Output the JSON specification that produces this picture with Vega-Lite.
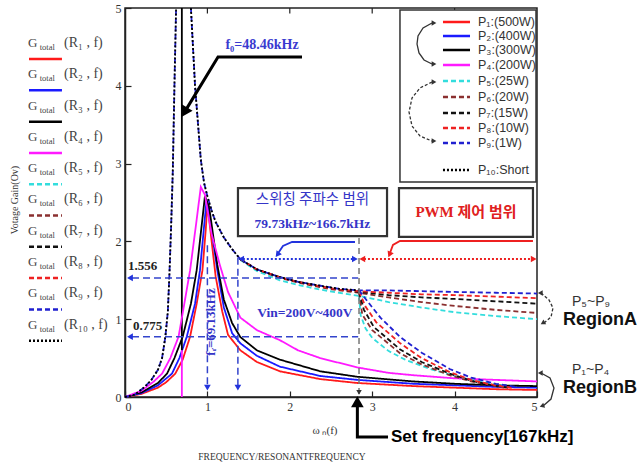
{
"$schema": "https://vega.github.io/schema/vega-lite/v6.json",
"width": 412, "height": 389,
"autosize": {"type": "none"},
"padding": {"left": 125, "top": 8, "right": 101, "bottom": 69},
"background": "white",
"data": {"values": [{}]},
"datasets": {
"curves": [
{"s":"P1","g":"a","x":0,"y":0},{"s":"P1","g":"a","x":0.2,"y":0.04},{"s":"P1","g":"a","x":0.4,"y":0.12},{"s":"P1","g":"a","x":0.5,"y":0.19},{"s":"P1","g":"a","x":0.61,"y":0.3},{"s":"P1","g":"a","x":0.7,"y":0.48},{"s":"P1","g":"a","x":0.79,"y":0.775},{"s":"P1","g":"a","x":0.87,"y":1.2},{"s":"P1","g":"a","x":0.94,"y":1.63},{"s":"P1","g":"a","x":0.98,"y":2.15},{"s":"P1","g":"a","x":1.0,"y":2.48},{"s":"P1","g":"a","x":1.03,"y":2.2},{"s":"P1","g":"a","x":1.1,"y":1.55},{"s":"P1","g":"a","x":1.18,"y":1.1},{"s":"P1","g":"a","x":1.25,"y":0.8},{"s":"P1","g":"a","x":1.4,"y":0.6},{"s":"P1","g":"a","x":1.6,"y":0.45},{"s":"P1","g":"a","x":1.88,"y":0.33},{"s":"P1","g":"a","x":2.37,"y":0.23},{"s":"P1","g":"a","x":2.82,"y":0.18},{"s":"P1","g":"a","x":3.5,"y":0.14},{"s":"P1","g":"a","x":4.0,"y":0.12},{"s":"P1","g":"a","x":4.5,"y":0.1},{"s":"P1","g":"a","x":5.0,"y":0.09},
{"s":"P2","g":"a","x":0,"y":0},{"s":"P2","g":"a","x":0.2,"y":0.05},{"s":"P2","g":"a","x":0.4,"y":0.15},{"s":"P2","g":"a","x":0.57,"y":0.3},{"s":"P2","g":"a","x":0.66,"y":0.5},{"s":"P2","g":"a","x":0.75,"y":0.775},{"s":"P2","g":"a","x":0.85,"y":1.2},{"s":"P2","g":"a","x":0.91,"y":1.63},{"s":"P2","g":"a","x":0.96,"y":2.2},{"s":"P2","g":"a","x":0.99,"y":2.53},{"s":"P2","g":"a","x":1.03,"y":2.3},{"s":"P2","g":"a","x":1.12,"y":1.63},{"s":"P2","g":"a","x":1.2,"y":1.15},{"s":"P2","g":"a","x":1.3,"y":0.82},{"s":"P2","g":"a","x":1.4,"y":0.69},{"s":"P2","g":"a","x":1.6,"y":0.53},{"s":"P2","g":"a","x":1.88,"y":0.39},{"s":"P2","g":"a","x":2.37,"y":0.27},{"s":"P2","g":"a","x":2.82,"y":0.22},{"s":"P2","g":"a","x":3.5,"y":0.17},{"s":"P2","g":"a","x":4.0,"y":0.15},{"s":"P2","g":"a","x":4.5,"y":0.13},{"s":"P2","g":"a","x":5.0,"y":0.12},
{"s":"P3","g":"a","x":0,"y":0},{"s":"P3","g":"a","x":0.2,"y":0.06},{"s":"P3","g":"a","x":0.4,"y":0.18},{"s":"P3","g":"a","x":0.51,"y":0.3},{"s":"P3","g":"a","x":0.6,"y":0.5},{"s":"P3","g":"a","x":0.7,"y":0.775},{"s":"P3","g":"a","x":0.8,"y":1.2},{"s":"P3","g":"a","x":0.87,"y":1.63},{"s":"P3","g":"a","x":0.93,"y":2.2},{"s":"P3","g":"a","x":0.97,"y":2.58},{"s":"P3","g":"a","x":1.02,"y":2.45},{"s":"P3","g":"a","x":1.12,"y":1.7},{"s":"P3","g":"a","x":1.2,"y":1.25},{"s":"P3","g":"a","x":1.3,"y":0.95},{"s":"P3","g":"a","x":1.4,"y":0.77},{"s":"P3","g":"a","x":1.6,"y":0.6},{"s":"P3","g":"a","x":1.88,"y":0.48},{"s":"P3","g":"a","x":2.37,"y":0.33},{"s":"P3","g":"a","x":2.82,"y":0.26},{"s":"P3","g":"a","x":3.5,"y":0.2},{"s":"P3","g":"a","x":4.0,"y":0.17},{"s":"P3","g":"a","x":4.5,"y":0.15},{"s":"P3","g":"a","x":5.0,"y":0.14},
{"s":"P3","g":"v","x":0.69,"y":0.6},{"s":"P3","g":"v","x":0.69,"y":5.0},
{"s":"P4","g":"a","x":0,"y":0},{"s":"P4","g":"a","x":0.2,"y":0.08},{"s":"P4","g":"a","x":0.35,"y":0.2},{"s":"P4","g":"a","x":0.45,"y":0.3},{"s":"P4","g":"a","x":0.55,"y":0.5},{"s":"P4","g":"a","x":0.65,"y":0.775},{"s":"P4","g":"a","x":0.72,"y":1.2},{"s":"P4","g":"a","x":0.79,"y":1.63},{"s":"P4","g":"a","x":0.86,"y":2.2},{"s":"P4","g":"a","x":0.92,"y":2.7},{"s":"P4","g":"a","x":0.97,"y":2.6},{"s":"P4","g":"a","x":1.05,"y":2.1},{"s":"P4","g":"a","x":1.15,"y":1.7},{"s":"P4","g":"a","x":1.25,"y":1.35},{"s":"P4","g":"a","x":1.4,"y":1.02},{"s":"P4","g":"a","x":1.6,"y":0.86},{"s":"P4","g":"a","x":1.88,"y":0.73},{"s":"P4","g":"a","x":2.1,"y":0.6},{"s":"P4","g":"a","x":2.37,"y":0.5},{"s":"P4","g":"a","x":2.82,"y":0.38},{"s":"P4","g":"a","x":3.2,"y":0.31},{"s":"P4","g":"a","x":3.5,"y":0.28},{"s":"P4","g":"a","x":4.0,"y":0.24},{"s":"P4","g":"a","x":4.5,"y":0.22},{"s":"P4","g":"a","x":5.0,"y":0.2},
{"s":"P4","g":"v","x":0.69,"y":0.0},{"s":"P4","g":"v","x":0.69,"y":0.6},
{"s":"P5","g":"b","x":1.4,"y":1.76},{"s":"P5","g":"b","x":1.6,"y":1.62},{"s":"P5","g":"b","x":1.88,"y":1.5},{"s":"P5","g":"b","x":2.1,"y":1.44},{"s":"P5","g":"b","x":2.37,"y":1.38},{"s":"P5","g":"b","x":2.6,"y":1.34},{"s":"P5","g":"b","x":2.84,"y":1.3},{"s":"P5","g":"b","x":3.2,"y":1.22},{"s":"P5","g":"b","x":3.6,"y":1.15},{"s":"P5","g":"b","x":4.0,"y":1.09},{"s":"P5","g":"b","x":4.5,"y":1.04},{"s":"P5","g":"b","x":5.0,"y":1.0},
{"s":"P5","g":"c","x":2.84,"y":1.3},{"s":"P5","g":"c","x":2.86,"y":1.05},{"s":"P5","g":"c","x":2.92,"y":0.88},{"s":"P5","g":"c","x":3.0,"y":0.76},{"s":"P5","g":"c","x":3.2,"y":0.59},{"s":"P5","g":"c","x":3.4,"y":0.48},{"s":"P5","g":"c","x":3.7,"y":0.36},{"s":"P5","g":"c","x":4.0,"y":0.27},{"s":"P5","g":"c","x":4.3,"y":0.2},{"s":"P5","g":"c","x":4.6,"y":0.15},
{"s":"P6","g":"b","x":1.4,"y":1.77},{"s":"P6","g":"b","x":1.6,"y":1.64},{"s":"P6","g":"b","x":1.88,"y":1.53},{"s":"P6","g":"b","x":2.1,"y":1.47},{"s":"P6","g":"b","x":2.37,"y":1.41},{"s":"P6","g":"b","x":2.6,"y":1.37},{"s":"P6","g":"b","x":2.84,"y":1.34},{"s":"P6","g":"b","x":3.2,"y":1.28},{"s":"P6","g":"b","x":3.6,"y":1.22},{"s":"P6","g":"b","x":4.0,"y":1.17},{"s":"P6","g":"b","x":4.5,"y":1.12},{"s":"P6","g":"b","x":5.0,"y":1.08},
{"s":"P6","g":"c","x":2.84,"y":1.34},{"s":"P6","g":"c","x":2.88,"y":1.06},{"s":"P6","g":"c","x":3.0,"y":0.86},{"s":"P6","g":"c","x":3.34,"y":0.56},{"s":"P6","g":"c","x":3.6,"y":0.42},{"s":"P6","g":"c","x":3.94,"y":0.28},{"s":"P6","g":"c","x":4.2,"y":0.2},{"s":"P6","g":"c","x":4.5,"y":0.14},{"s":"P6","g":"c","x":4.6,"y":0.12},
{"s":"P7","g":"b","x":1.4,"y":1.77},{"s":"P7","g":"b","x":1.6,"y":1.64},{"s":"P7","g":"b","x":1.88,"y":1.54},{"s":"P7","g":"b","x":2.1,"y":1.48},{"s":"P7","g":"b","x":2.37,"y":1.42},{"s":"P7","g":"b","x":2.6,"y":1.38},{"s":"P7","g":"b","x":2.84,"y":1.35},{"s":"P7","g":"b","x":3.2,"y":1.31},{"s":"P7","g":"b","x":3.6,"y":1.28},{"s":"P7","g":"b","x":4.0,"y":1.26},{"s":"P7","g":"b","x":4.5,"y":1.23},{"s":"P7","g":"b","x":5.0,"y":1.2},
{"s":"P7","g":"c","x":2.84,"y":1.35},{"s":"P7","g":"c","x":2.9,"y":1.12},{"s":"P7","g":"c","x":3.02,"y":0.9},{"s":"P7","g":"c","x":3.34,"y":0.61},{"s":"P7","g":"c","x":3.6,"y":0.45},{"s":"P7","g":"c","x":3.94,"y":0.3},{"s":"P7","g":"c","x":4.2,"y":0.21},{"s":"P7","g":"c","x":4.5,"y":0.14},{"s":"P7","g":"c","x":4.65,"y":0.12},
{"s":"P8","g":"b","x":1.4,"y":1.77},{"s":"P8","g":"b","x":1.6,"y":1.64},{"s":"P8","g":"b","x":1.88,"y":1.54},{"s":"P8","g":"b","x":2.1,"y":1.48},{"s":"P8","g":"b","x":2.37,"y":1.42},{"s":"P8","g":"b","x":2.6,"y":1.38},{"s":"P8","g":"b","x":2.84,"y":1.36},{"s":"P8","g":"b","x":3.2,"y":1.34},{"s":"P8","g":"b","x":3.6,"y":1.32},{"s":"P8","g":"b","x":4.0,"y":1.31},{"s":"P8","g":"b","x":4.5,"y":1.29},{"s":"P8","g":"b","x":5.0,"y":1.27},
{"s":"P8","g":"c","x":2.84,"y":1.36},{"s":"P8","g":"c","x":2.92,"y":1.16},{"s":"P8","g":"c","x":3.05,"y":0.96},{"s":"P8","g":"c","x":3.34,"y":0.69},{"s":"P8","g":"c","x":3.6,"y":0.5},{"s":"P8","g":"c","x":3.94,"y":0.32},{"s":"P8","g":"c","x":4.2,"y":0.22},{"s":"P8","g":"c","x":4.5,"y":0.15},{"s":"P8","g":"c","x":4.7,"y":0.12},
{"s":"P9","g":"a","x":0,"y":0},{"s":"P9","g":"a","x":0.12,"y":0.03},{"s":"P9","g":"a","x":0.24,"y":0.13},{"s":"P9","g":"a","x":0.32,"y":0.22},{"s":"P9","g":"a","x":0.4,"y":0.35},{"s":"P9","g":"a","x":0.45,"y":0.5},{"s":"P9","g":"a","x":0.49,"y":0.775},{"s":"P9","g":"a","x":0.52,"y":1.1},{"s":"P9","g":"a","x":0.54,"y":1.6},{"s":"P9","g":"a","x":0.56,"y":2.2},{"s":"P9","g":"a","x":0.58,"y":2.9},{"s":"P9","g":"a","x":0.6,"y":4.0},{"s":"P9","g":"a","x":0.62,"y":5.0},
{"s":"P9","g":"b","x":0.8,"y":5.0},{"s":"P9","g":"b","x":0.85,"y":4.0},{"s":"P9","g":"b","x":0.92,"y":3.05},{"s":"P9","g":"b","x":0.96,"y":2.75},{"s":"P9","g":"b","x":1.0,"y":2.58},{"s":"P9","g":"b","x":1.05,"y":2.4},{"s":"P9","g":"b","x":1.1,"y":2.25},{"s":"P9","g":"b","x":1.2,"y":2.05},{"s":"P9","g":"b","x":1.3,"y":1.9},{"s":"P9","g":"b","x":1.4,"y":1.77},{"s":"P9","g":"b","x":1.6,"y":1.64},{"s":"P9","g":"b","x":1.88,"y":1.54},{"s":"P9","g":"b","x":2.1,"y":1.48},{"s":"P9","g":"b","x":2.37,"y":1.43},{"s":"P9","g":"b","x":2.6,"y":1.39},{"s":"P9","g":"b","x":2.84,"y":1.37},{"s":"P9","g":"b","x":3.2,"y":1.37},{"s":"P9","g":"b","x":3.6,"y":1.36},{"s":"P9","g":"b","x":4.0,"y":1.35},{"s":"P9","g":"b","x":4.5,"y":1.34},{"s":"P9","g":"b","x":5.0,"y":1.33},
{"s":"P9","g":"c","x":2.84,"y":1.37},{"s":"P9","g":"c","x":2.95,"y":1.22},{"s":"P9","g":"c","x":3.1,"y":1.02},{"s":"P9","g":"c","x":3.34,"y":0.77},{"s":"P9","g":"c","x":3.6,"y":0.57},{"s":"P9","g":"c","x":3.94,"y":0.36},{"s":"P9","g":"c","x":4.2,"y":0.25},{"s":"P9","g":"c","x":4.5,"y":0.17},{"s":"P9","g":"c","x":4.75,"y":0.13},
{"s":"P10","g":"a","x":0,"y":0},{"s":"P10","g":"a","x":0.12,"y":0.03},{"s":"P10","g":"a","x":0.24,"y":0.13},{"s":"P10","g":"a","x":0.32,"y":0.22},{"s":"P10","g":"a","x":0.4,"y":0.35},{"s":"P10","g":"a","x":0.45,"y":0.5},{"s":"P10","g":"a","x":0.49,"y":0.775},{"s":"P10","g":"a","x":0.52,"y":1.1},{"s":"P10","g":"a","x":0.54,"y":1.6},{"s":"P10","g":"a","x":0.56,"y":2.2},{"s":"P10","g":"a","x":0.58,"y":2.9},{"s":"P10","g":"a","x":0.6,"y":4.0},{"s":"P10","g":"a","x":0.62,"y":5.0},
{"s":"P10","g":"b","x":0.8,"y":5.0},{"s":"P10","g":"b","x":0.85,"y":4.0},{"s":"P10","g":"b","x":0.92,"y":3.05},{"s":"P10","g":"b","x":0.96,"y":2.75},{"s":"P10","g":"b","x":1.0,"y":2.58},{"s":"P10","g":"b","x":1.05,"y":2.4},{"s":"P10","g":"b","x":1.1,"y":2.25},{"s":"P10","g":"b","x":1.2,"y":2.05},{"s":"P10","g":"b","x":1.3,"y":1.9},{"s":"P10","g":"b","x":1.4,"y":1.77},{"s":"P10","g":"b","x":1.6,"y":1.64},{"s":"P10","g":"b","x":1.88,"y":1.54},{"s":"P10","g":"b","x":2.1,"y":1.48},{"s":"P10","g":"b","x":2.37,"y":1.43},{"s":"P10","g":"b","x":2.6,"y":1.39},{"s":"P10","g":"b","x":2.84,"y":1.37}
],
"legL": [
{"s":"P1","lab":"(R₁ , f)","ty":4.55,"ly":4.344},
{"s":"P2","lab":"(R₂ , f)","ty":4.148,"ly":3.942},
{"s":"P3","lab":"(R₃ , f)","ty":3.745,"ly":3.539},
{"s":"P4","lab":"(R₄ , f)","ty":3.343,"ly":3.137},
{"s":"P5","lab":"(R₅ , f)","ty":2.941,"ly":2.735},
{"s":"P6","lab":"(R₆ , f)","ty":2.539,"ly":2.333},
{"s":"P7","lab":"(R₇ , f)","ty":2.136,"ly":1.93},
{"s":"P8","lab":"(R₈ , f)","ty":1.734,"ly":1.528},
{"s":"P9","lab":"(R₉ , f)","ty":1.332,"ly":1.126},
{"s":"P10","lab":"(R₁₀ , f)","ty":0.929,"ly":0.723}
],
"legR": [
{"s":"P1","lab":"P₁:(500W)","ly":4.82},
{"s":"P2","lab":"P₂:(400W)","ly":4.64},
{"s":"P3","lab":"P₃:(300W)","ly":4.46},
{"s":"P4","lab":"P₄:(200W)","ly":4.267},
{"s":"P5","lab":"P₅:(25W)","ly":4.062},
{"s":"P6","lab":"P₆:(20W)","ly":3.856},
{"s":"P7","lab":"P₇:(15W)","ly":3.65},
{"s":"P8","lab":"P₈:(10W)","ly":3.458},
{"s":"P9","lab":"P₉:(1W)","ly":3.265},
{"s":"P10","lab":"P₁₀:Short","ly":2.918}
],
"topTicks": [{"t":1},{"t":2},{"t":3},{"t":4}],
"ann": [
{"id":"h1","o":0,"x":0.085,"y":1.53},{"id":"h1","o":1,"x":2.83,"y":1.53},
{"id":"h2","o":0,"x":0.085,"y":0.775},{"id":"h2","o":1,"x":2.83,"y":0.775},
{"id":"v1","o":0,"x":1.0,"y":1.95},{"id":"v1","o":1,"x":1.0,"y":0.15},
{"id":"v2","o":0,"x":1.37,"y":1.79},{"id":"v2","o":1,"x":1.37,"y":0.15},
{"id":"cb","o":0,"x":2.791,"y":1.992},{"id":"cb","o":1,"x":2.027,"y":1.992},{"id":"cb","o":2,"x":1.917,"y":1.941},{"id":"cb","o":3,"x":1.86,"y":1.85},
{"id":"cr","o":0,"x":4.951,"y":2.005},{"id":"cr","o":1,"x":3.337,"y":2.005},{"id":"cr","o":2,"x":3.252,"y":1.954},{"id":"cr","o":3,"x":3.215,"y":1.85},
{"id":"db","o":0,"x":1.43,"y":1.774},{"id":"db","o":1,"x":2.77,"y":1.774},
{"id":"dr","o":0,"x":2.9,"y":1.774},{"id":"dr","o":1,"x":4.94,"y":1.774},
{"id":"vg","o":0,"x":2.84,"y":0.04},{"id":"vg","o":1,"x":2.84,"y":2.05},
{"id":"f0","o":0,"x":2.148,"y":4.37},{"id":"f0","o":1,"x":1.129,"y":4.37},{"id":"f0","o":2,"x":0.75,"y":3.71},
{"id":"sf","o":0,"x":2.82,"y":-0.09},{"id":"sf","o":1,"x":2.82,"y":-0.514},{"id":"sf","o":2,"x":3.192,"y":-0.514},
{"id":"la1","o":0,"x":3.726,"y":4.807},{"id":"la1","o":1,"x":3.617,"y":4.743},{"id":"la1","o":2,"x":3.556,"y":4.64},{"id":"la1","o":3,"x":3.544,"y":4.537},{"id":"la1","o":4,"x":3.568,"y":4.422},{"id":"la1","o":5,"x":3.629,"y":4.332},{"id":"la1","o":6,"x":3.726,"y":4.28},
{"id":"la2","o":0,"x":3.726,"y":4.049},{"id":"la2","o":1,"x":3.58,"y":3.972},{"id":"la2","o":2,"x":3.483,"y":3.843},{"id":"la2","o":3,"x":3.447,"y":3.663},{"id":"la2","o":4,"x":3.483,"y":3.483},{"id":"la2","o":5,"x":3.58,"y":3.355},{"id":"la2","o":6,"x":3.726,"y":3.29},
{"id":"ra1","o":0,"x":5.049,"y":1.337},{"id":"ra1","o":1,"x":5.146,"y":1.247},{"id":"ra1","o":2,"x":5.194,"y":1.144},{"id":"ra1","o":3,"x":5.17,"y":1.028},{"id":"ra1","o":4,"x":5.085,"y":0.951},
{"id":"ra2","o":0,"x":5.049,"y":0.308},{"id":"ra2","o":1,"x":5.158,"y":0.244},{"id":"ra2","o":2,"x":5.206,"y":0.116},{"id":"ra2","o":3,"x":5.17,"y":-0.026},{"id":"ra2","o":4,"x":5.073,"y":-0.116}
],
"headsBlue": [{"x":0.06,"y":1.53,"a":270},{"x":0.06,"y":0.775,"a":270},{"x":1.0,"y":0.12,"a":180},{"x":1.37,"y":0.12,"a":180},{"x":1.85,"y":1.83,"a":217},{"x":1.41,"y":1.774,"a":270},{"x":2.79,"y":1.774,"a":90}],
"headsRed": [{"x":3.21,"y":1.83,"a":204},{"x":2.88,"y":1.774,"a":270},{"x":4.96,"y":1.774,"a":90}],
"headsBlack": [{"x":2.84,"y":0.06,"a":180},{"x":3.75,"y":4.807,"a":90},{"x":3.75,"y":4.28,"a":90},{"x":3.75,"y":4.049,"a":90},{"x":3.75,"y":3.29,"a":90},{"x":5.04,"y":1.337,"a":270},{"x":5.07,"y":0.951,"a":240},{"x":5.04,"y":0.308,"a":270},{"x":5.06,"y":-0.116,"a":250}],
"headsBig": [{"x":0.72,"y":3.66,"a":211},{"x":2.82,"y":-0.06,"a":0}]
},
"layer": [
{"data": {"name": "curves"},
 "mark": {"type": "line", "strokeWidth": 1.8},
 "encoding": {
  "x": {"field": "x", "type": "quantitative", "title": null, "scale": {"domain": [0, 5], "nice": false, "zero": false},
        "axis": {"values": [0,1,2,3,4,5], "format": "d", "title": null, "grid": false, "tickSize": -6, "labelPadding": 10, "labelFont": "Liberation Serif", "labelFontSize": 12, "labelColor": "#333", "domainColor": "#222", "domainWidth": 1.5, "tickColor": "#222", "tickWidth": 1.2}},
  "y": {"field": "y", "type": "quantitative", "title": null, "scale": {"domain": [0, 5], "nice": false, "zero": false},
        "axis": {"values": [0,1,2,3,4,5], "format": "d", "title": null, "grid": false, "tickSize": -6, "labelPadding": 10, "labelFont": "Liberation Serif", "labelFontSize": 12, "labelColor": "#333", "domainColor": "#222", "domainWidth": 1.5, "tickColor": "#222", "tickWidth": 1.2}},
  "color": {"field": "s", "type": "nominal", "legend": null, "scale": {"domain": ["P1","P2","P3","P4","P5","P6","P7","P8","P9","P10"], "range": ["#ff1a1a","#1a1aff","#000000","#ff1aff","#33dddd","#8b3030","#111111","#ee2222","#2020d0","#000000"]}},
  "strokeDash": {"field": "s", "type": "nominal", "legend": null, "scale": {"domain": ["P1","P2","P3","P4","P5","P6","P7","P8","P9","P10"], "range": [[1,0],[1,0],[1,0],[1,0],[5,3],[5,3],[5,3],[5,3],[5,3],[2,2]]}},
  "detail": {"field": "g"}
 }},
{"data": {"name": "topTicks"}, "mark": {"type": "rule", "color": "#222", "strokeWidth": 1.2},
 "encoding": {"x": {"field": "t", "type": "quantitative", "title": null}, "y": {"datum": 5}, "y2": {"datum": 4.93}}},
{"data": {"name": "legL"}, "mark": {"type": "rule", "strokeWidth": 2.5},
 "encoding": {"x": {"datum": -1.165}, "x2": {"datum": -0.765}, "y": {"field": "ly", "type": "quantitative", "title": null},
  "color": {"field": "s", "type": "nominal", "legend": null}, "strokeDash": {"field": "s", "type": "nominal", "legend": null}}},
{"data": {"name": "legL"}, "mark": {"type": "text", "align": "left", "baseline": "middle", "font": "Liberation Serif", "fontSize": 13, "color": "#444", "text": "G"},
 "encoding": {"x": {"datum": -1.177}, "y": {"field": "ty", "type": "quantitative", "title": null}}},
{"data": {"name": "legL"}, "mark": {"type": "text", "align": "left", "baseline": "middle", "font": "Liberation Serif", "fontSize": 8.5, "color": "#444", "text": "total", "dy": 4},
 "encoding": {"x": {"datum": -1.035}, "y": {"field": "ty", "type": "quantitative", "title": null}}},
{"data": {"name": "legL"}, "mark": {"type": "text", "align": "left", "baseline": "middle", "font": "Liberation Serif", "fontSize": 14, "color": "#444"},
 "encoding": {"x": {"datum": -0.74}, "y": {"field": "ty", "type": "quantitative", "title": null}, "text": {"field": "lab"}}},
{"mark": {"type": "rect", "fill": "white", "stroke": "#333", "strokeWidth": 1.5},
 "encoding": {"x": {"datum": 3.337}, "x2": {"datum": 4.988}, "y": {"datum": 4.974}, "y2": {"datum": 2.763}}},
{"data": {"name": "legR"}, "mark": {"type": "rule", "strokeWidth": 2.5},
 "encoding": {"x": {"datum": 3.859}, "x2": {"datum": 4.187}, "y": {"field": "ly", "type": "quantitative", "title": null},
  "color": {"field": "s", "type": "nominal", "legend": null}, "strokeDash": {"field": "s", "type": "nominal", "legend": null}}},
{"data": {"name": "legR"}, "mark": {"type": "text", "align": "left", "baseline": "middle", "font": "Liberation Sans", "fontSize": 12.5, "color": "#333"},
 "encoding": {"x": {"datum": 4.284}, "y": {"field": "ly", "type": "quantitative", "title": null}, "text": {"field": "lab"}}},
{"mark": {"type": "rect", "fill": "white", "stroke": "#333", "strokeWidth": 2.2},
 "encoding": {"x": {"datum": 1.371}, "x2": {"datum": 3.18}, "y": {"datum": 2.686}, "y2": {"datum": 2.069}}},
{"mark": {"type": "rect", "fill": "white", "stroke": "#333", "strokeWidth": 2.2},
 "encoding": {"x": {"datum": 3.325}, "x2": {"datum": 4.951}, "y": {"datum": 2.686}, "y2": {"datum": 2.057}}},
{"data": {"name": "ann"}, "transform": [{"filter": {"field": "id", "oneOf": ["h1","h2","v1","v2"]}}],
 "mark": {"type": "line", "color": "#3344cc", "strokeWidth": 1.5, "strokeDash": [7,4]},
 "encoding": {"x": {"field": "x", "type": "quantitative", "title": null}, "y": {"field": "y", "type": "quantitative", "title": null}, "detail": {"field": "id"}, "order": {"field": "o"}}},
{"data": {"name": "ann"}, "transform": [{"filter": {"field": "id", "oneOf": ["cb"]}}],
 "mark": {"type": "line", "color": "#2233dd", "strokeWidth": 1.8},
 "encoding": {"x": {"field": "x", "type": "quantitative", "title": null}, "y": {"field": "y", "type": "quantitative", "title": null}, "detail": {"field": "id"}, "order": {"field": "o"}}},
{"data": {"name": "ann"}, "transform": [{"filter": {"field": "id", "oneOf": ["cr"]}}],
 "mark": {"type": "line", "color": "#ee2020", "strokeWidth": 1.8},
 "encoding": {"x": {"field": "x", "type": "quantitative", "title": null}, "y": {"field": "y", "type": "quantitative", "title": null}, "detail": {"field": "id"}, "order": {"field": "o"}}},
{"data": {"name": "ann"}, "transform": [{"filter": {"field": "id", "oneOf": ["db"]}}],
 "mark": {"type": "line", "color": "#2233dd", "strokeWidth": 1.8, "strokeDash": [2,2]},
 "encoding": {"x": {"field": "x", "type": "quantitative", "title": null}, "y": {"field": "y", "type": "quantitative", "title": null}, "detail": {"field": "id"}, "order": {"field": "o"}}},
{"data": {"name": "ann"}, "transform": [{"filter": {"field": "id", "oneOf": ["dr"]}}],
 "mark": {"type": "line", "color": "#ee2020", "strokeWidth": 1.8, "strokeDash": [2,2]},
 "encoding": {"x": {"field": "x", "type": "quantitative", "title": null}, "y": {"field": "y", "type": "quantitative", "title": null}, "detail": {"field": "id"}, "order": {"field": "o"}}},
{"data": {"name": "ann"}, "transform": [{"filter": {"field": "id", "oneOf": ["vg"]}}],
 "mark": {"type": "line", "color": "#777", "strokeWidth": 1.5, "strokeDash": [6,4]},
 "encoding": {"x": {"field": "x", "type": "quantitative", "title": null}, "y": {"field": "y", "type": "quantitative", "title": null}, "detail": {"field": "id"}, "order": {"field": "o"}}},
{"data": {"name": "ann"}, "transform": [{"filter": {"field": "id", "oneOf": ["f0","sf"]}}],
 "mark": {"type": "line", "color": "#000", "strokeWidth": 3},
 "encoding": {"x": {"field": "x", "type": "quantitative", "title": null}, "y": {"field": "y", "type": "quantitative", "title": null}, "detail": {"field": "id"}, "order": {"field": "o"}}},
{"data": {"name": "ann"}, "transform": [{"filter": {"field": "id", "oneOf": ["la1","ra2"]}}],
 "mark": {"type": "line", "color": "#333", "strokeWidth": 1.3},
 "encoding": {"x": {"field": "x", "type": "quantitative", "title": null}, "y": {"field": "y", "type": "quantitative", "title": null}, "detail": {"field": "id"}, "order": {"field": "o"}}},
{"data": {"name": "ann"}, "transform": [{"filter": {"field": "id", "oneOf": ["la2","ra1"]}}],
 "mark": {"type": "line", "color": "#333", "strokeWidth": 1.3, "strokeDash": [3,2]},
 "encoding": {"x": {"field": "x", "type": "quantitative", "title": null}, "y": {"field": "y", "type": "quantitative", "title": null}, "detail": {"field": "id"}, "order": {"field": "o"}}},
{"data": {"name": "headsBlue"}, "mark": {"type": "point", "shape": "triangle-up", "filled": true, "color": "#2233dd", "size": 45, "opacity": 1},
 "encoding": {"x": {"field": "x", "type": "quantitative", "title": null}, "y": {"field": "y", "type": "quantitative", "title": null}, "angle": {"field": "a", "type": "quantitative", "scale": null}}},
{"data": {"name": "headsRed"}, "mark": {"type": "point", "shape": "triangle-up", "filled": true, "color": "#ee2020", "size": 45, "opacity": 1},
 "encoding": {"x": {"field": "x", "type": "quantitative", "title": null}, "y": {"field": "y", "type": "quantitative", "title": null}, "angle": {"field": "a", "type": "quantitative", "scale": null}}},
{"data": {"name": "headsBlack"}, "mark": {"type": "point", "shape": "triangle-up", "filled": true, "color": "#333", "size": 30, "opacity": 1},
 "encoding": {"x": {"field": "x", "type": "quantitative", "title": null}, "y": {"field": "y", "type": "quantitative", "title": null}, "angle": {"field": "a", "type": "quantitative", "scale": null}}},
{"data": {"name": "headsBig"}, "mark": {"type": "point", "shape": "triangle-up", "filled": true, "color": "#000", "size": 160, "opacity": 1},
 "encoding": {"x": {"field": "x", "type": "quantitative", "title": null}, "y": {"field": "y", "type": "quantitative", "title": null}, "angle": {"field": "a", "type": "quantitative", "scale": null}}},
{"mark": {"type": "text", "text": "Votage Gain(Ov)", "angle": 270, "font": "Liberation Serif", "fontSize": 10, "color": "#333"},
 "encoding": {"x": {"datum": -1.335}, "y": {"datum": 2.532}}},
{"mark": {"type": "text", "text": "f₀=48.46kHz", "font": "Liberation Serif", "fontWeight": "bold", "fontSize": 14, "color": "#3a3ad0"},
 "encoding": {"x": {"datum": 1.663}, "y": {"datum": 4.524}}},
{"mark": {"type": "text", "text": "스위칭 주파수 범위", "font": "Noto Sans CJK KR", "fontSize": 14.5, "color": "#3535c8"},
 "encoding": {"x": {"datum": 2.275}, "y": {"datum": 2.53}}},
{"mark": {"type": "text", "text": "79.73kHz~166.7kHz", "font": "Liberation Serif", "fontWeight": "bold", "fontSize": 13.5, "color": "#3535c8"},
 "encoding": {"x": {"datum": 2.275}, "y": {"datum": 2.23}}},
{"mark": {"type": "text", "text": "PWM 제어 범위", "font": "Liberation Serif, Noto Sans CJK KR", "fontWeight": "bold", "fontSize": 15, "color": "#e02020"},
 "encoding": {"x": {"datum": 4.138}, "y": {"datum": 2.378}}},
{"mark": {"type": "text", "text": "1.556", "align": "left", "font": "Liberation Serif", "fontWeight": "bold", "fontSize": 13, "color": "#222"},
 "encoding": {"x": {"datum": 0.036}, "y": {"datum": 1.684}}},
{"mark": {"type": "text", "text": "0.775", "align": "left", "font": "Liberation Serif", "fontWeight": "bold", "fontSize": 13, "color": "#222"},
 "encoding": {"x": {"datum": 0.097}, "y": {"datum": 0.913}}},
{"mark": {"type": "text", "text": "Vin=200V~400V", "font": "Liberation Serif", "fontWeight": "bold", "fontSize": 13.5, "color": "#3535c8"},
 "encoding": {"x": {"datum": 2.184}, "y": {"datum": 1.08}}},
{"mark": {"type": "text", "text": "fᵣ=69.13kHz", "angle": 270, "font": "Liberation Serif", "fontWeight": "bold", "fontSize": 13, "color": "#3535c8"},
 "encoding": {"x": {"datum": 1.044}, "y": {"datum": 0.964}}},
{"mark": {"type": "text", "text": "P₅~P₉", "align": "left", "font": "Liberation Sans", "fontSize": 14, "color": "#333"},
 "encoding": {"x": {"datum": 5.425}, "y": {"datum": 1.221}}},
{"mark": {"type": "text", "text": "RegionA", "align": "left", "font": "Liberation Sans", "fontWeight": "bold", "fontSize": 18, "color": "#111"},
 "encoding": {"x": {"datum": 5.316}, "y": {"datum": 0.99}}},
{"mark": {"type": "text", "text": "P₁~P₄", "align": "left", "font": "Liberation Sans", "fontSize": 14, "color": "#333"},
 "encoding": {"x": {"datum": 5.425}, "y": {"datum": 0.347}}},
{"mark": {"type": "text", "text": "RegionB", "align": "left", "font": "Liberation Sans", "fontWeight": "bold", "fontSize": 18, "color": "#111"},
 "encoding": {"x": {"datum": 5.316}, "y": {"datum": 0.116}}},
{"mark": {"type": "text", "text": "Set frequency[167kHz]", "align": "left", "font": "Liberation Sans", "fontWeight": "bold", "fontSize": 17, "color": "#000"},
 "encoding": {"x": {"datum": 3.228}, "y": {"datum": -0.514}}},
{"mark": {"type": "text", "text": "ω ₙ(f)", "font": "Liberation Serif", "fontSize": 11, "color": "#333"},
 "encoding": {"x": {"datum": 2.427}, "y": {"datum": -0.437}}},
{"mark": {"type": "text", "text": "FREQUENCY/RESONANTFREQUENCY", "font": "Liberation Serif", "fontSize": 9.5, "color": "#333"},
 "encoding": {"x": {"datum": 1.905}, "y": {"datum": -0.771}}}
],
"config": {"view": {"stroke": "#222", "strokeWidth": 1.5}}
}
